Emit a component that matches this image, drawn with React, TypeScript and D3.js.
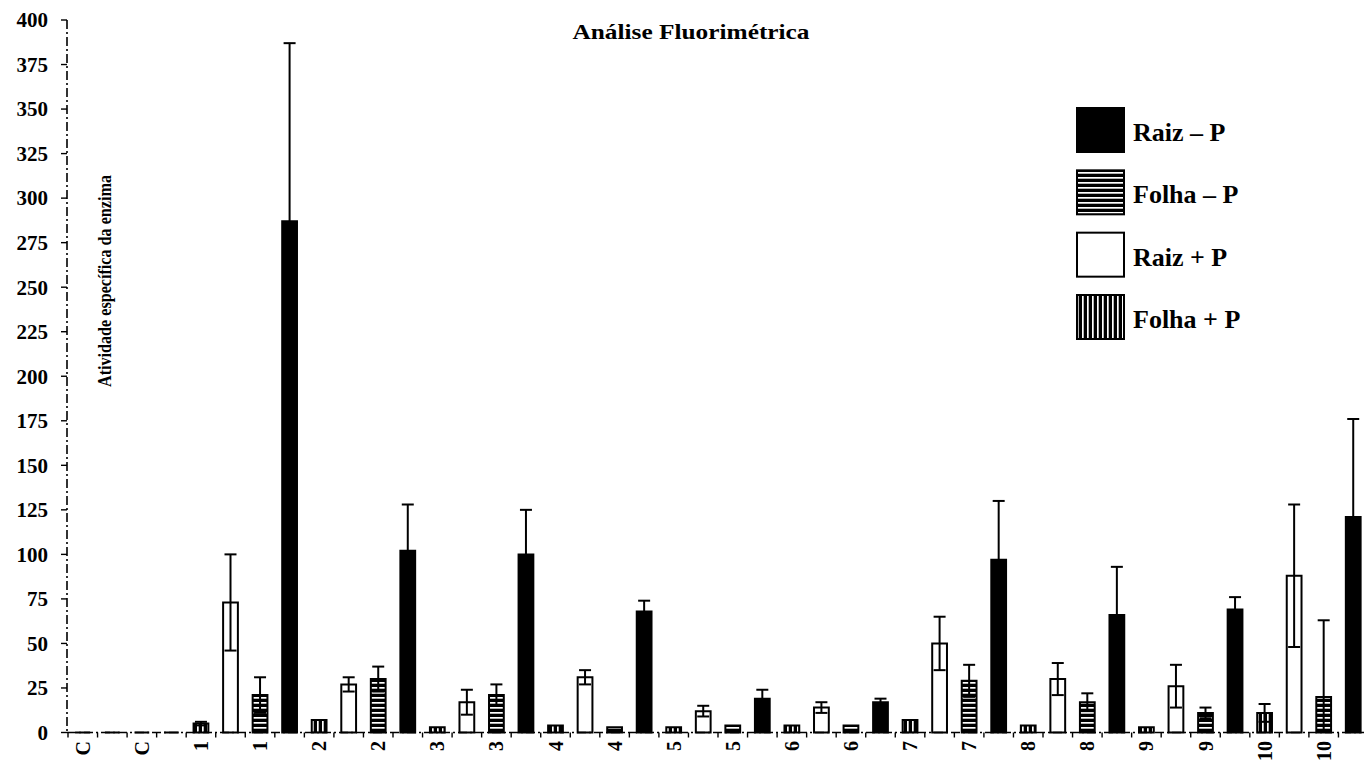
import React from 'react';
import * as d3 from 'd3';

// samples (C = control, 1..10)
const samples = ['C', '1', '2', '3', '4', '5', '6', '7', '8', '9', '10'];

// legend order
const seriesNames = ['Raiz – P', 'Folha – P', 'Raiz + P', 'Folha + P'];

// values
const raizMenos = [0, 287, 102, 100, 68, 19, 17, 97, 66, 69, 121];
const raizMenosErr = [0, 100, 26, 25, 6, 5, 2, 33, 27, 7, 55];
const folhaMenos = [0, 21, 30, 21, 3, 4, 4, 29, 17, 11, 20];
const folhaMenosErr = [0, 10, 7, 6, 0, 0, 0, 9, 5, 3, 43];
const raizMais = [0, 73, 27, 17, 31, 12, 14, 50, 30, 26, 88];
const raizMaisErr = [0, 27, 4, 7, 4, 3, 3, 15, 9, 12, 40];
const folhaMais = [0, 5, 7, 3, 4, 3, 4, 7, 4, 3, 11];
const folhaMaisErr = [0, 1, 0, 0, 0, 0, 0, 0, 0, 0, 5];

const yTicks = [0, 25, 50, 75, 100, 125, 150, 175, 200, 225, 250, 275, 300, 325, 350, 375, 400];

const title = 'Análise Fluorimétrica';
const yLabel = 'Atividade específica da enzima';

const W = 1364;
const H = 764;
const FONT = "'Liberation Serif', 'DejaVu Serif', 'Times New Roman', serif";

const values = [raizMenos, folhaMenos, raizMais, folhaMais];
const errors = [raizMenosErr, folhaMenosErr, raizMaisErr, folhaMaisErr];
const fills = ['#000', 'url(#hatchH)', '#fff', 'url(#hatchV)'];
// order of the four bars inside each sample group (series index)
const slotOrder = [3, 2, 1, 0];

export default function App() {
  const slots = samples.flatMap((s, gi) =>
    slotOrder.map((si, k) => ({
      id: `${s}-${k}`,
      idx: gi * 4 + k,
      sample: s,
      series: si,
      value: values[si][gi],
      err: errors[si][gi],
    }))
  );

  const margin = { left: 68, top: 20, bottom: 732.5 };
  const x = d3.scaleBand()
    .domain(slots.map(d => d.id))
    .range([margin.left, margin.left + 1300])
    .paddingInner(0.5)
    .paddingOuter(0.25);
  const y = d3.scaleLinear().domain([0, 400]).range([margin.bottom, margin.top]);
  const step = x.step();
  const bw = x.bandwidth();
  const y0 = y(0);

  const legendY = d3.scalePoint().domain(seriesNames).range([108, 295]);
  const axisDash = '9 3 2 3';

  return (
    <svg width={W} height={H} style={{ position: 'absolute', left: 0, top: 0, background: '#fff' }}
      fontFamily={FONT} fontWeight="bold">
      <defs>
        <pattern id="hatchH" patternUnits="userSpaceOnUse" width={6} height={5}>
          <rect width={6} height={5} fill="#000" />
          <rect y={2} width={6} height={1.7} fill="#fff" />
        </pattern>
        <pattern id="hatchV" patternUnits="userSpaceOnUse" width={5} height={6}>
          <rect width={5} height={6} fill="#000" />
          <rect x={2} width={1.7} height={6} fill="#fff" />
        </pattern>
      </defs>
      <rect width={W} height={H} fill="#fff" />

      {/* title */}
      <text x={691} y={39} textAnchor="middle" fontSize={21} textLength={237} lengthAdjust="spacingAndGlyphs">
        {title}
      </text>

      {/* y axis label */}
      <text transform={`translate(111,281) rotate(-90)`} textAnchor="middle" fontSize={18}
        textLength={212} lengthAdjust="spacingAndGlyphs">
        {yLabel}
      </text>

      {/* y axis */}
      <line x1={margin.left - 1} x2={margin.left - 1} y1={margin.top} y2={y0} stroke="#000" strokeWidth={1.6}
        strokeDasharray={axisDash} />
      {yTicks.map(t => (
        <g key={t}>
          <line x1={margin.left - 7} x2={margin.left - 1} y1={y(t)} y2={y(t)} stroke="#000" strokeWidth={1.4} />
          <text x={48} y={y(t)} dy="0.35em" textAnchor="end" fontSize={21}>{t}</text>
        </g>
      ))}

      {/* bars */}
      {slots.map(d => {
        const x0 = x(d.id)!;
        const yt = y(d.value);
        return (
          <path key={d.id} d={`M${x0},${y0}V${yt}H${x0 + bw}V${y0}Z`} fill={fills[d.series]}
            stroke="#000" strokeWidth={2} />
        );
      })}

      {/* error bars */}
      {slots.filter(d => d.err > 0).map(d => {
        const cx = x(d.id)! + bw / 2;
        const lo = Math.max(0, d.value - d.err);
        const hi = d.value + d.err;
        return (
          <g key={`e-${d.id}`} stroke="#000" strokeWidth={2}>
            <line x1={cx} x2={cx} y1={y(lo)} y2={y(hi)} />
            <line x1={cx - 6} x2={cx + 6} y1={y(hi)} y2={y(hi)} />
            {lo > 0 && <line x1={cx - 6} x2={cx + 6} y1={y(lo)} y2={y(lo)} />}
          </g>
        );
      })}

      {/* x axis */}
      <line x1={margin.left - 1} x2={W} y1={y0} y2={y0} stroke="#000" strokeWidth={1.6} strokeDasharray={axisDash} />
      {d3.range(slots.length + 1).map(i => (
        <line key={`t${i}`} x1={margin.left + i * step} x2={margin.left + i * step} y1={y0} y2={y0 + 5}
          stroke="#000" strokeWidth={1.4} />
      ))}
      {slots.filter(d => d.idx % 2 === 0).map(d => (
        <text key={`l-${d.id}`} transform={`translate(${x(d.id)! + bw / 2},741) rotate(-90)`}
          textAnchor="end" dy="0.35em" fontSize={20}>
          {d.sample}
        </text>
      ))}

      {/* legend */}
      {seriesNames.map((name, i) => {
        const ly = legendY(name)!;
        return (
          <g key={name}>
            <rect x={1077} y={ly} width={47} height={44} fill={fills[i]} stroke="#000" strokeWidth={2} />
            <text x={1133} y={ly + 33} fontSize={26}>{name}</text>
          </g>
        );
      })}
    </svg>
  );
}
